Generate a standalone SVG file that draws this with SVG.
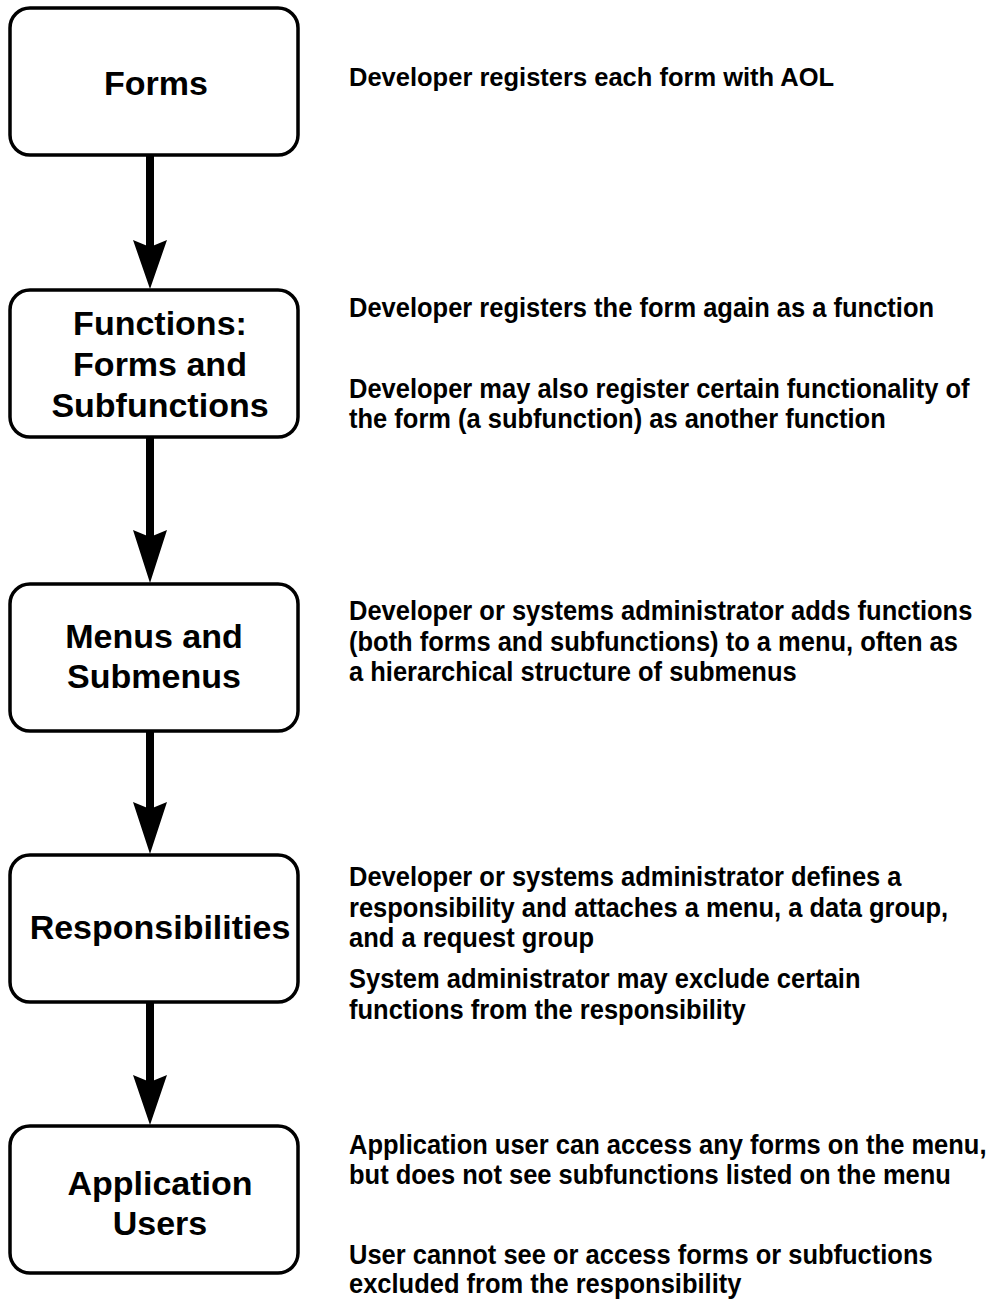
<svg xmlns="http://www.w3.org/2000/svg" width="993" height="1299" viewBox="0 0 993 1299">
  <style>
    .box { fill: #ffffff; stroke: #000000; stroke-width: 3.5; }
    .title { font-family: "Liberation Sans", Arial, sans-serif; font-weight: bold; font-size: 34px; fill: #000000; text-anchor: middle; }
    .note { font-family: "Liberation Sans", Arial, sans-serif; font-weight: bold; font-size: 25.5px; fill: #000000; }
    .shaft { stroke: #000000; stroke-width: 8; fill: none; }
    .head { fill: #000000; }
  </style>
  <rect width="993" height="1299" fill="#ffffff"/>

  <!-- connectors between the stages -->
  <g id="connectors">
    <line class="shaft" x1="150" y1="155" x2="150" y2="248"/>
    <polygon class="head" points="133,240 150,247 167,240 150,289"/>
    <line class="shaft" x1="150" y1="437" x2="150" y2="538"/>
    <polygon class="head" points="133,530 150,537 167,530 150,583"/>
    <line class="shaft" x1="150" y1="731" x2="150" y2="810"/>
    <polygon class="head" points="133,802 150,809 167,802 150,854"/>
    <line class="shaft" x1="150" y1="1002" x2="150" y2="1083"/>
    <polygon class="head" points="133,1075 150,1082 167,1075 150,1125"/>
  </g>

  <g id="node-forms">
    <rect class="box" x="10" y="8" width="288" height="147" rx="20"/>
    <text class="title" x="156" y="95">Forms</text>
  </g>

  <g id="node-functions">
    <rect class="box" x="10" y="290" width="288" height="147" rx="20"/>
    <text class="title" x="160" y="335">Functions:</text>
    <text class="title" x="160" y="376">Forms and</text>
    <text class="title" x="160" y="417">Subfunctions</text>
  </g>

  <g id="node-menus">
    <rect class="box" x="10" y="584" width="288" height="147" rx="20"/>
    <text class="title" x="154" y="648">Menus and</text>
    <text class="title" x="154" y="688">Submenus</text>
  </g>

  <g id="node-responsibilities">
    <rect class="box" x="10" y="855" width="288" height="147" rx="20"/>
    <text class="title" x="160" y="939">Responsibilities</text>
  </g>

  <g id="node-users">
    <rect class="box" x="10" y="1126" width="288" height="147" rx="20"/>
    <text class="title" x="160" y="1195">Application</text>
    <text class="title" x="160" y="1235">Users</text>
  </g>

  <!-- descriptions to the right of each stage; later notes are set slightly taller -->
  <g id="notes">
    <text class="note" x="349" y="86">Developer registers each form with AOL</text>

    <text class="note" transform="translate(349 317) scale(1 1.1)">Developer registers the form again as a function</text>
    <text class="note" transform="translate(349 398) scale(1 1.1)">Developer may also register certain functionality of</text>
    <text class="note" transform="translate(349 428) scale(1 1.1)">the form (a subfunction) as another function</text>

    <text class="note" transform="translate(349 620) scale(1 1.1)">Developer or systems administrator adds functions</text>
    <text class="note" transform="translate(349 651) scale(1 1.1)">(both forms and subfunctions) to a menu, often as</text>
    <text class="note" transform="translate(349 681) scale(1 1.1)">a hierarchical structure of submenus</text>

    <text class="note" transform="translate(349 886) scale(1 1.1)">Developer or systems administrator defines a</text>
    <text class="note" transform="translate(349 917) scale(1 1.1)">responsibility and attaches a menu, a data group,</text>
    <text class="note" transform="translate(349 947) scale(1 1.1)">and a request group</text>
    <text class="note" transform="translate(349 988) scale(1 1.1)">System administrator may exclude certain</text>
    <text class="note" transform="translate(349 1019) scale(1 1.1)">functions from the responsibility</text>

    <text class="note" transform="translate(349 1154) scale(1 1.1)">Application user can access any forms on the menu,</text>
    <text class="note" transform="translate(349 1184) scale(1 1.1)">but does not see subfunctions listed on the menu</text>
    <text class="note" transform="translate(349 1264) scale(1 1.1)">User cannot see or access forms or subfuctions</text>
    <text class="note" transform="translate(349 1293) scale(1 1.1)">excluded from the responsibility</text>
  </g>
</svg>
